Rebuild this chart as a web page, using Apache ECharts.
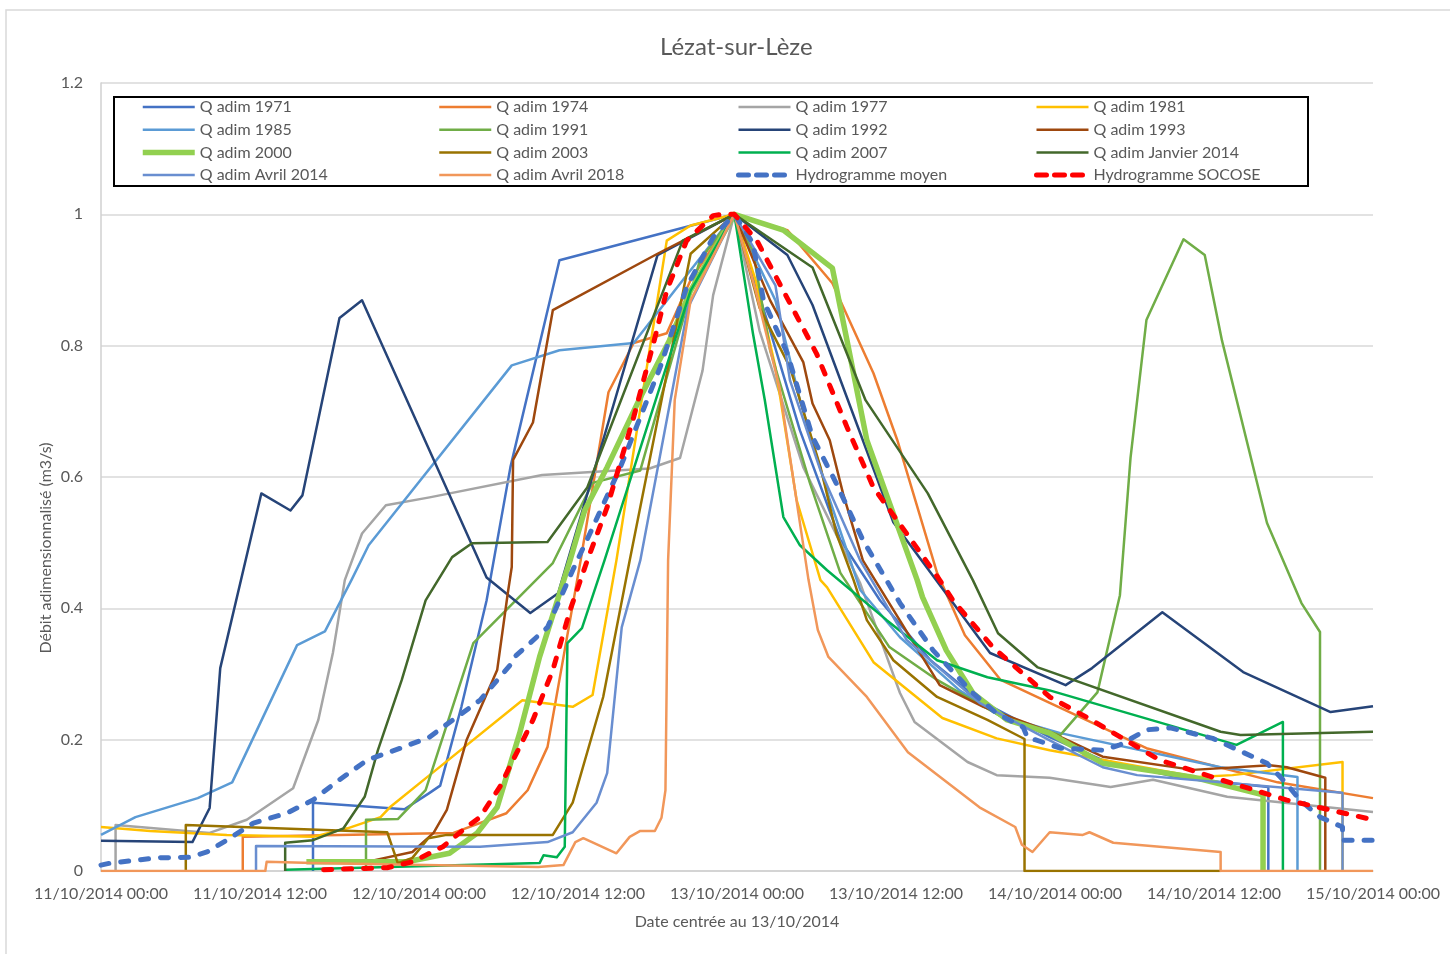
<!DOCTYPE html>
<html>
<head>
<meta charset="utf-8">
<title>Lézat-sur-Lèze</title>
<script src="https://cdn.jsdelivr.net/npm/echarts@6/dist/echarts.min.js"></script>
<style>
  html, body { margin: 0; padding: 0; background: #ffffff; }
  #chart { width: 1450px; height: 954px; }
</style>
</head>
<body>
<div id="chart"></div>
<script>
// Hours since 11/10/2014 00:00 paired with dimensionless discharge (Q / Qmax)
const tickLabels = [
  '11/10/2014 00:00', '11/10/2014 12:00', '12/10/2014 00:00', '12/10/2014 12:00',
  '13/10/2014 00:00', '13/10/2014 12:00', '14/10/2014 00:00', '14/10/2014 12:00',
  '15/10/2014 00:00'
];

const q1971 = [[16.0,0],[16.0,0.104],[22.9,0.094],[24.8,0.119],[25.6,0.13],[27.2,0.25],[29.1,0.412],[30.9,0.615],[34.6,0.93],[47.8,1.0],
  [50.5,0.823],[52.75,0.671],[55.8,0.504],[58.8,0.412],[62.6,0.321],[66.3,0.26],[71.6,0.204],[75.6,0.169],[81.4,0.142],[88.1,0.128],[88.1,0]];
const q1974 = [[10.7,0],[10.7,0.052],[21.1,0.056],[26.6,0.058],[30.6,0.088],[32.2,0.123],[33.7,0.189],[36.2,0.473],[38.3,0.729],[40.2,0.804],[42.7,0.819],[44.5,0.9],[47.8,1.0],
  [51.8,0.976],[55.2,0.895],[58.3,0.758],[60.1,0.656],[63.1,0.454],[65.2,0.359],[67.9,0.291],[71.6,0.256],[78.9,0.187],[88.8,0.135],[96,0.111]];
const q1977 = [[1.1,0],[1.1,0.07],[8.2,0.058],[11.0,0.078],[14.5,0.126],[16.4,0.23],[17.5,0.332],[18.4,0.443],[19.7,0.514],[21.5,0.557],[24.8,0.569],[33.3,0.603],[41.4,0.613],[43.7,0.629],[45.4,0.762],[46.2,0.877],[47.8,1.0],
  [49.7,0.823],[53.0,0.615],[57.3,0.438],[60.3,0.271],[61.4,0.227],[65.4,0.166],[67.6,0.146],[71.6,0.142],[76.2,0.128],[79.4,0.139],[85.0,0.113],[96,0.09]];
const q1981 = [[0,0.067],[3.7,0.061],[9.5,0.055],[16.0,0.052],[18.6,0.065],[21.1,0.082],[21.8,0.097],[24.8,0.146],[31.8,0.26],[35.6,0.25],[37.1,0.268],[38.9,0.473],[42.7,0.96],[44.5,0.983],[47.8,1.0],
  [49.4,0.9],[50.9,0.767],[52.5,0.565],[54.3,0.443],[54.8,0.432],[58.3,0.318],[63.5,0.233],[67.6,0.202],[71.6,0.184],[82.7,0.143],[85.4,0.146],[93.7,0.166],[93.7,0]];
const q1985 = [[0,0.055],[2.6,0.082],[7.3,0.111],[9.9,0.135],[14.8,0.344],[16.9,0.365],[18.9,0.443],[20.2,0.496],[31.0,0.77],[34.6,0.793],[40.2,0.804],[47.8,1.0],
  [50.9,0.869],[52.75,0.717],[55.0,0.565],[57.3,0.428],[60.3,0.356],[64.8,0.275],[67.8,0.237],[72.4,0.21],[84.5,0.158],[90.3,0.143],[90.3,0]];
const q1991 = [[20.0,0],[20.0,0.078],[22.4,0.079],[24.5,0.123],[28.1,0.347],[34.1,0.469],[37.1,0.591],[40.7,0.61],[45.2,0.93],[47.8,1.0],
  [49.2,0.945],[50.5,0.793],[53.5,0.591],[55.8,0.454],[59.5,0.341],[63.1,0.291],[67.8,0.237],[72.4,0.207],[75.2,0.272],[76.9,0.42],[77.7,0.629],[78.9,0.839],[81.7,0.962],[83.3,0.938],[84.6,0.808],[88.0,0.53],[90.6,0.408],[92.0,0.364],[92.0,0]];
const q1992 = [[0,0.046],[6.9,0.044],[8.2,0.096],[9.0,0.309],[12.1,0.575],[14.3,0.549],[15.2,0.572],[18.0,0.842],[19.7,0.869],[29.1,0.447],[32.4,0.393],[34.5,0.423],[42.0,0.938],[47.8,1.0],
  [51.8,0.938],[53.7,0.862],[59.8,0.531],[67.1,0.332],[72.8,0.283],[74.8,0.309],[80.1,0.394],[86.2,0.303],[92.8,0.242],[96,0.251]];
const q1993 = [[20.3,0.015],[23.5,0.029],[25.1,0.058],[26.1,0.093],[27.6,0.2],[29.9,0.306],[30.7,0.423],[31.0,0.463],[31.1,0.626],[32.6,0.683],[34.1,0.854],[42.0,0.94],[47.8,1.0],
  [50.5,0.869],[53.0,0.775],[53.7,0.712],[55.0,0.656],[56.0,0.575],[57.5,0.473],[63.3,0.283],[66.6,0.25],[71.6,0.212],[75.6,0.174],[82.4,0.154],[88.2,0.161],[89.5,0.158],[92.4,0.142],[92.4,0]];
const q2000 = [[15.5,0.014],[23.1,0.014],[26.3,0.027],[28.4,0.058],[29.9,0.097],[31.6,0.21],[33.1,0.326],[35.4,0.473],[36.5,0.549],[38.2,0.615],[40.7,0.721],[42.9,0.808],[44.5,0.884],[47.8,1.0],
  [51.5,0.976],[55.2,0.918],[56.3,0.808],[57.8,0.656],[61.6,0.443],[62.0,0.417],[63.8,0.336],[65.8,0.271],[68.4,0.23],[71.6,0.21],[75.6,0.164],[82.4,0.143],[87.7,0.116],[87.7,0]];
const q2003 = [[6.4,0],[6.4,0.07],[21.6,0.059],[22.4,0.012],[23.5,0.02],[24.7,0.05],[26.1,0.055],[34.1,0.055],[35.6,0.104],[37.9,0.265],[39.9,0.473],[44.5,0.94],[47.8,1.0],
  [49.7,0.858],[52.0,0.767],[54.3,0.615],[55.5,0.514],[56.8,0.443],[57.8,0.382],[59.8,0.321],[63.1,0.265],[66.9,0.23],[69.7,0.201],[69.7,0],[84.5,0]];
const q2007 = [[13.9,0.002],[33.1,0.012],[33.4,0.024],[34.4,0.021],[35.0,0.037],[35.2,0.347],[36.3,0.37],[38.0,0.473],[44.5,0.884],[47.8,1.0],
  [49.2,0.819],[50.1,0.717],[51.5,0.539],[52.75,0.496],[54.8,0.458],[59.3,0.382],[63.1,0.321],[66.9,0.295],[71.6,0.275],[85.7,0.192],[89.2,0.227],[89.2,0]];
const qJanvier2014 = [[13.9,0],[13.9,0.043],[16.0,0.047],[18.3,0.065],[19.9,0.113],[20.9,0.184],[22.7,0.291],[24.5,0.412],[26.5,0.478],[28.0,0.499],[33.7,0.501],[36.7,0.584],[43.9,0.96],[47.8,1.0],
  [53.7,0.919],[57.7,0.717],[62.4,0.575],[65.8,0.443],[67.7,0.362],[70.7,0.31],[84.5,0.212],[86.0,0.207],[96,0.212]];
const qAvril2014 = [[11.7,0],[11.7,0.038],[28.6,0.037],[33.7,0.044],[35.6,0.059],[37.4,0.104],[38.2,0.149],[39.3,0.371],[40.7,0.473],[44.3,0.858],[47.8,1.0],
  [50.9,0.892],[52.0,0.747],[54.3,0.61],[57.3,0.473],[60.8,0.352],[66.3,0.256],[71.6,0.199],[75.6,0.158],[78.2,0.146],[93.7,0.119],[93.7,0]];
const qAvril2018 = [[0,0],[12.4,0],[12.5,0.014],[16.0,0.012],[33.0,0.006],[34.9,0.009],[35.8,0.044],[36.4,0.05],[38.9,0.027],[39.9,0.052],[40.7,0.061],[41.8,0.061],[42.3,0.081],[42.6,0.123],[42.8,0.473],[43.3,0.717],[44.5,0.869],[47.8,1.0],
  [49.4,0.884],[51.2,0.737],[53.4,0.443],[54.1,0.367],[54.9,0.326],[57.8,0.265],[60.9,0.181],[66.3,0.097],[69.0,0.067],[69.5,0.04],[70.3,0.029],[71.6,0.059],[74.1,0.055],[74.6,0.059],[76.4,0.043],[84.5,0.029],[84.5,0],[96,0]];
const hydroMoyen = [[0,0.009],[0.7,0.012],[4.2,0.02],[6.7,0.021],[8.0,0.029],[9.5,0.047],[11.5,0.073],[14.0,0.088],[16.0,0.108],[18.0,0.139],[20.1,0.169],[22.6,0.187],[24.8,0.204],[25.8,0.219],[28.6,0.26],[30.9,0.314],[31.1,0.324],[33.7,0.371],[35.6,0.458],[36.9,0.514],[39.2,0.615],[42.2,0.767],[44.2,0.889],[46.2,0.965],[47.8,1.0],
  [49.2,0.956],[50.0,0.869],[51.8,0.788],[53.7,0.661],[55.5,0.59],[57.5,0.504],[60.3,0.408],[62.8,0.336],[65.8,0.271],[67.6,0.24],[69.6,0.219],[69.9,0.204],[72.4,0.187],[75.6,0.184],[76.9,0.192],[78.9,0.215],[80.7,0.218],[83.9,0.202],[88.0,0.164],[89.2,0.139],[90.5,0.108],[92.0,0.082],[93.7,0.067],[93.7,0.047],[96,0.047]];
const hydroSocose = [[16.8,0.002],[21.6,0.005],[23.5,0.014],[25.8,0.037],[27.6,0.067],[28.6,0.082],[30.1,0.128],[32.6,0.23],[34.1,0.306],[35.4,0.397],[36.7,0.473],[38.2,0.554],[40.2,0.691],[41.7,0.804],[42.7,0.884],[44.2,0.96],[46.2,0.998],[46.9,1.0],[47.8,1.0],
  [49.5,0.96],[51.2,0.895],[54.0,0.788],[56.3,0.676],[58.3,0.584],[60.8,0.514],[63.3,0.443],[64.3,0.412],[67.3,0.341],[71.6,0.265],[74.4,0.234],[79.9,0.169],[84.5,0.139],[89.5,0.108],[96,0.078]];

const seriesDefs = [
  { name: 'Q adim 1971', data: q1971, color: '#4472C4' },
  { name: 'Q adim 1974', data: q1974, color: '#ED7D31' },
  { name: 'Q adim 1977', data: q1977, color: '#A5A5A5' },
  { name: 'Q adim 1981', data: q1981, color: '#FFC000' },
  { name: 'Q adim 1985', data: q1985, color: '#5B9BD5' },
  { name: 'Q adim 1991', data: q1991, color: '#70AD47' },
  { name: 'Q adim 1992', data: q1992, color: '#264478' },
  { name: 'Q adim 1993', data: q1993, color: '#9E480E' },
  { name: 'Q adim 2000', data: q2000, color: '#92D050', width: 5.5 },
  { name: 'Q adim 2003', data: q2003, color: '#997300' },
  { name: 'Q adim 2007', data: q2007, color: '#00B050' },
  { name: 'Q adim Janvier 2014', data: qJanvier2014, color: '#43682B' },
  { name: 'Q adim Avril 2014', data: qAvril2014, color: '#698ED0' },
  { name: 'Q adim Avril 2018', data: qAvril2018, color: '#F1975A' },
  { name: 'Hydrogramme moyen', data: hydroMoyen, color: '#4472C4', width: 5, dashed: true },
  { name: 'Hydrogramme SOCOSE', data: hydroSocose, color: '#FF0000', width: 5, dashed: true }
];

const FONT = 'Lato, "Liberation Sans", sans-serif';
const TEXT = '#595959';

const columns = [
  ['Q adim 1971', 'Q adim 1985', 'Q adim 2000', 'Q adim Avril 2014'],
  ['Q adim 1974', 'Q adim 1991', 'Q adim 2003', 'Q adim Avril 2018'],
  ['Q adim 1977', 'Q adim 1992', 'Q adim 2007', 'Hydrogramme moyen'],
  ['Q adim 1981', 'Q adim 1993', 'Q adim Janvier 2014', 'Hydrogramme SOCOSE']
];
const columnLeft = [140, 438, 736, 1034];

function lineStyleOf(s) {
  return {
    color: s.color,
    width: s.width || 2.5,
    type: s.dashed ? [8, 12] : 'solid',
    cap: s.dashed ? 'round' : 'butt',
    join: 'round'
  };
}
const defByName = {};
seriesDefs.forEach(s => { defByName[s.name] = s; });

const chart = echarts.init(document.getElementById('chart'), null, { renderer: 'canvas' });

chart.setOption({
  animation: false,
  backgroundColor: '#ffffff',
  title: {
    text: 'Lézat-sur-Lèze',
    left: 655,
    top: 30,
    textStyle: { fontFamily: FONT, fontSize: 24, fontWeight: 'normal', color: TEXT }
  },
  graphic: [
    { type: 'rect', silent: true, z: -10,
      shape: { x: 6, y: 10, width: 1500, height: 1000 },
      style: { fill: 'none', stroke: '#D9D9D9', lineWidth: 1.5 } },
    { type: 'rect', silent: true,
      shape: { x: 114, y: 97, width: 1194, height: 89 },
      style: { fill: 'none', stroke: '#000000', lineWidth: 2 } },
    { type: 'text', silent: true, x: 46, y: 548, rotation: Math.PI / 2,
      style: { text: 'Débit adimensionnalisé (m3/s)', fontFamily: FONT, fontSize: 16,
        fill: TEXT, align: 'center', verticalAlign: 'middle' } }
  ],
  legend: columns.map((items, i) => ({
    orient: 'vertical',
    left: columnLeft[i],
    top: 99,
    padding: 0,
    itemWidth: 52,
    itemHeight: 14,
    itemGap: 6.7,
    data: items.map(name => {
      const ls = lineStyleOf(defByName[name]);
      if (defByName[name].dashed) ls.type = [10, 8];
      return { name, lineStyle: ls };
    }),
    itemStyle: { opacity: 0 },
    textStyle: { fontFamily: FONT, fontSize: 16, color: TEXT, lineHeight: 16 }
  })),
  grid: { left: 101, right: 77, top: 83, bottom: 83, containLabel: false },
  xAxis: {
    type: 'value',
    min: 0,
    max: 96,
    interval: 12,
    name: 'Date centrée au 13/10/2014',
    nameLocation: 'middle',
    nameGap: 43,
    nameTextStyle: { fontFamily: FONT, fontSize: 16, color: TEXT },
    axisLine: { show: true, onZero: false, lineStyle: { color: '#D0D0D0', width: 1.5 } },
    axisTick: { show: false },
    splitLine: { show: false },
    axisLabel: {
      margin: 15,
      fontFamily: FONT, fontSize: 16, color: TEXT,
      formatter: v => tickLabels[Math.round(v / 12)] || ''
    }
  },
  yAxis: {
    type: 'value',
    min: 0,
    max: 1.2,
    interval: 0.2,
    axisLine: { show: true, lineStyle: { color: '#D0D0D0', width: 1.5 } },
    axisTick: { show: false },
    splitLine: { show: true, lineStyle: { color: '#D9D9D9', width: 1.5 } },
    axisLabel: {
      margin: 18,
      fontFamily: FONT, fontSize: 16, color: TEXT,
      formatter: v => String(Math.round(v * 10) / 10)
    }
  },
  series: seriesDefs.map(s => ({
    name: s.name,
    type: 'line',
    data: s.data,
    symbol: 'none',
    showSymbol: false,
    smooth: false,
    color: s.color,
    lineStyle: lineStyleOf(s),
    emphasis: { disabled: true }
  }))
});
</script>
</body>
</html>
